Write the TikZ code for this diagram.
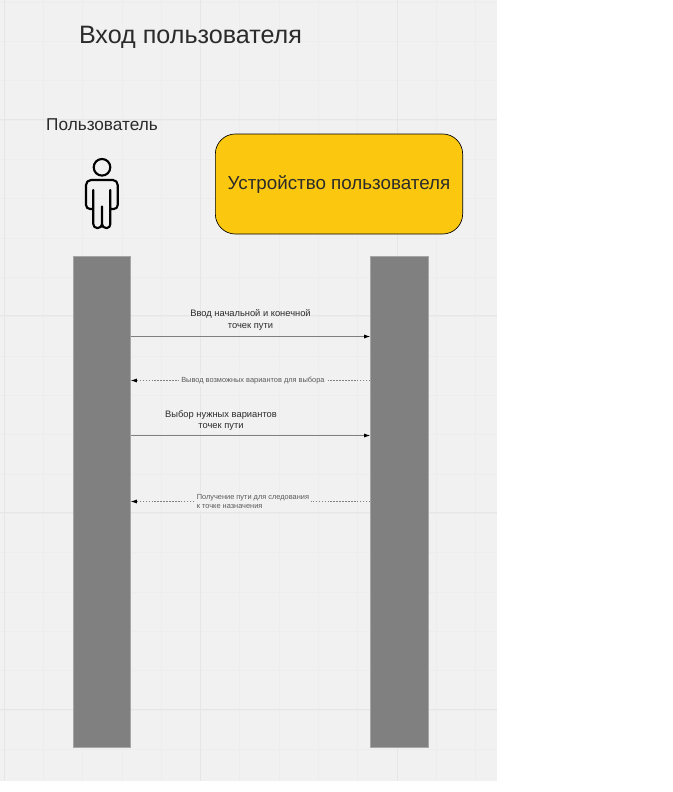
\documentclass[tikz,border=0pt]{standalone}
\usepackage{fontspec}
\setmainfont{Liberation Sans}
\definecolor{canvasbg}{HTML}{F1F1F1}
\definecolor{gridminor}{HTML}{EDEDED}
\definecolor{gridmajor}{HTML}{E6E6E6}
\definecolor{devicefill}{HTML}{FCC80F}
\definecolor{darktext}{HTML}{2B2B2B}
\tikzset{
  lifebar/.style={draw=black!35,fill=black!50,line width=0.6pt,minimum width=43pt,minimum height=368.5pt,inner sep=0pt,anchor=north west},
  callline/.style={draw=black!50,line width=0.6pt,-{Latex[length=4.5pt,width=3pt,black]}},
  backline/.style={draw=black!50,line width=0.45pt,dash pattern=on 1.2pt off 1pt,-{Latex[length=4.5pt,width=3pt,black]}},
  calllabel/.style={font=\fontsize{7pt}{8.6pt}\selectfont,text=darktext,align=center,inner sep=0pt},
  backlabel/.style={font=\fontsize{5.55pt}{7.4pt}\selectfont,text=black!65,fill=canvasbg,inner sep=1.5pt},
}
\usetikzlibrary{arrows.meta}
\begin{document}
\begin{tikzpicture}[x=0.75pt,y=-0.75pt]
\useasboundingbox (0,0) rectangle (672,792);
\fill[canvasbg] (0,0) rectangle (497,780.5);
% grid
\foreach \i in {0,...,12} \draw[gridminor,line width=0.6pt] ({4+39.3*\i},0) -- ({4+39.3*\i},780.5);
\foreach \i in {0,...,19} \draw[gridminor,line width=0.6pt] (0,{2+39.33*\i}) -- (497,{2+39.33*\i});
\foreach \i in {0,1,2} \draw[gridmajor,line width=0.7pt] ({4+196.5*\i},0) -- ({4+196.5*\i},780.5);
\foreach \i in {0,1,2,3} \draw[gridmajor,line width=0.7pt] (0,{119.3+196.65*\i}) -- (497,{119.3+196.65*\i});
% title and actor
\node[font=\fontsize{18.85pt}{20pt}\selectfont,text=darktext,inner sep=0pt] (title) at (190.5,37) {Вход пользователя};
\node[font=\fontsize{12.9pt}{14pt}\selectfont,text=darktext,inner sep=0pt] (userlabel) at (102,124.5) {Пользователь};
\draw[black,line width=1.6pt] (102,167.3) circle (8.3);
\draw[black,line width=1.6pt,line join=round,line cap=round] (102,206.5) -- (102,224)
  to[out=-90,in=0,looseness=1] (98,228) -- (97,228) to[out=180,in=-90] (93.3,224)
  -- (93.3,190) (93.3,208) to[out=-90,in=0] (90,209) to[out=180,in=-90] (86,205)
  -- (86,185) to[out=90,in=180] (91,180) -- (113,180) to[out=0,in=90] (117.7,185)
  -- (117.7,205) to[out=-90,in=0] (114,209) to[out=180,in=-90] (110.3,208)
  (110.3,190) -- (110.3,224) to[out=-90,in=0] (107,228) -- (106,228) to[out=180,in=-90] (102,224);
% device
\node[draw=black,fill=devicefill,line width=0.5pt,rounded corners=15pt,minimum width=185.5pt,minimum height=75pt,inner sep=0pt,font=\fontsize{14.1pt}{16pt}\selectfont,text=darktext] (device) at (339,184) {Устройство пользователя};
% lifelines
\node[lifebar] (userbar) at (72.7,255.7) {};
\node[lifebar] (devicebar) at (370.2,255.7) {};
% messages
\draw[callline] (userbar.east |- 0,336.5) coordinate (ua) -- (devicebar.west |- ua);
\draw[backline] (devicebar.west |- 0,380.5) coordinate (db) -- (userbar.east |- db)
  node[backlabel,pos=0.49] (backone) {Вывод возможных вариантов для выбора};
\draw[callline] (userbar.east |- 0,435.5) coordinate (uc) -- (devicebar.west |- uc);
\draw[backline] (devicebar.west |- 0,501.5) coordinate (dd) -- (userbar.east |- dd)
  node[backlabel,pos=0.49,align=left] (backtwo) {Получение пути для следования\\к точке назначения};
\node[calllabel] (callone) at (250.5,320) {Ввод начальной и конечной\\точек пути};
\node[calllabel] (calltwo) at (221,420.5) {Выбор нужных вариантов\\точек пути};
\end{tikzpicture}
\end{document}
